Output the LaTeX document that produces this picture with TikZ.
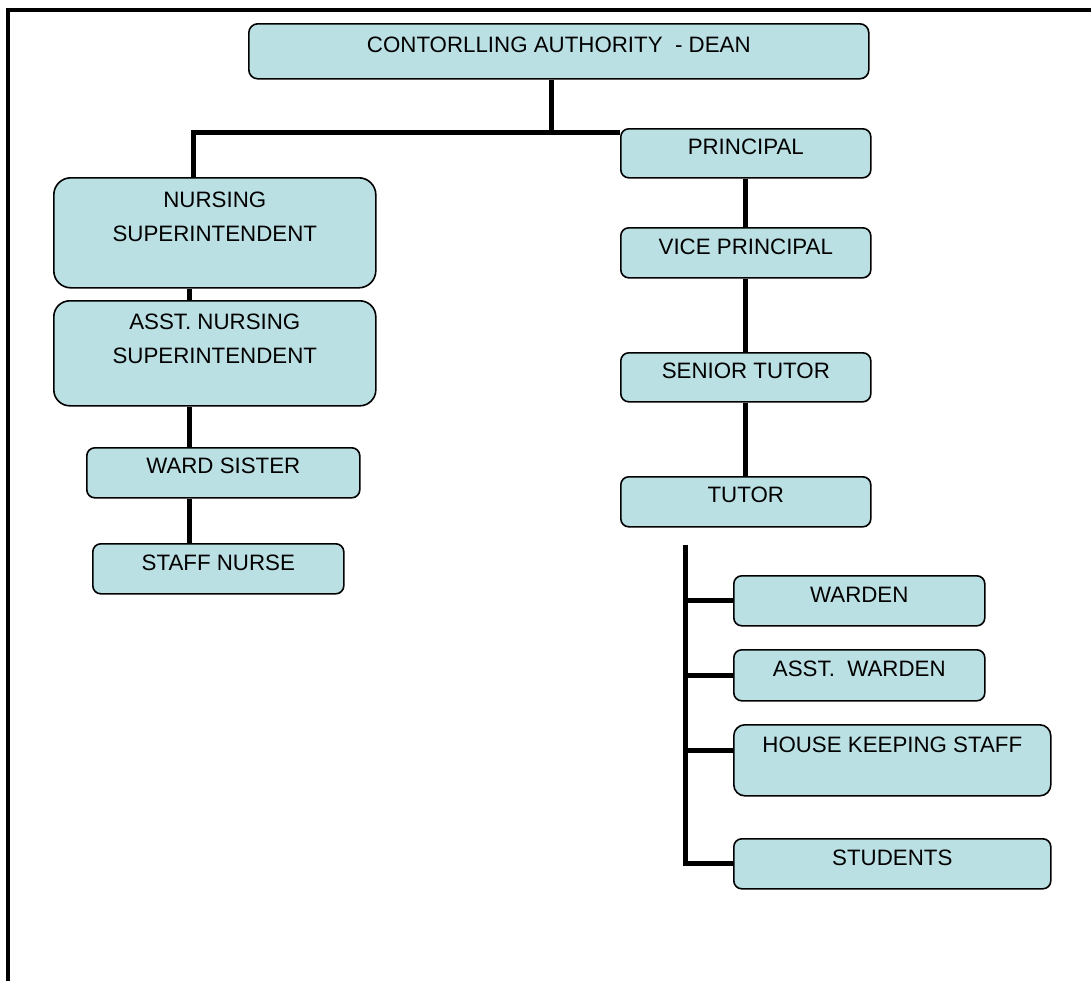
\documentclass[tikz,border=0pt]{standalone}
\usepackage{fontspec}
\usepackage{tikz}
\usetikzlibrary{calc}
\newfontfamily\orgfont{Liberation Sans}
\definecolor{boxfill}{RGB}{187,224,227}

\begin{document}
\begin{tikzpicture}[x=1pt,y=-1pt,
    post/.style={draw=black, line width=1.6pt, fill=boxfill, anchor=north west, inner sep=0pt, rounded corners=8pt},
    bar/.style={line width=5pt},
    ttl/.style={anchor=base, inner sep=0pt, align=center, font=\orgfont\fontsize{22.3}{34}\selectfont}]
                \useasboundingbox (0,0) rectangle (1091,980);

                % Frame
                \draw[line width=4pt] (8,985)--(8,9.5)--(1095,9.5);

                % Boxes
                \node[post, minimum width=620, minimum height=55, rounded corners=9pt] (dean) at (248,23) {};
                \node[post, minimum width=250, minimum height=49] (prin) at (620,128) {};
                \node[post, minimum width=250, minimum height=50] (vice) at (620,227) {};
                \node[post, minimum width=250, minimum height=49] (sen) at (620,352) {};
                \node[post, minimum width=250, minimum height=50] (tut) at (620,476) {};
                \node[post, minimum width=322, minimum height=110, rounded corners=17pt] (nsup) at (53,177) {};
                \node[post, minimum width=322, minimum height=105, rounded corners=16pt] (ansup) at (53,300) {};
                \node[post, minimum width=273, minimum height=50] (ward) at (86,447) {};
                \node[post, minimum width=251, minimum height=50] (staff) at (92,543) {};
                \node[post, minimum width=251, minimum height=50] (wdn) at (733,575) {};
                \node[post, minimum width=251, minimum height=51] (awdn) at (733,649) {};
                \node[post, minimum width=317, minimum height=71, rounded corners=11pt] (hks) at (733,724) {};
                \node[post, minimum width=317, minimum height=50] (stu) at (733,838) {};

                % Texts (two-line ones sit on their last line)
                \node[ttl] (dean-t) at ([yshift=-29pt]dean.north) {CONTORLLING AUTHORITY \ - DEAN};
                \node[ttl] (prin-t) at ([yshift=-26pt]prin.north) {PRINCIPAL};
                \node[ttl] (vice-t) at ([yshift=-27pt]vice.north) {VICE PRINCIPAL};
                \node[ttl] (sen-t) at ([yshift=-26pt]sen.north) {SENIOR TUTOR};
                \node[ttl] (tut-t) at ([yshift=-26pt]tut.north) {TUTOR};
                \node[ttl] (nsup-t) at ([yshift=-64.5pt]nsup.north) {NURSING\\SUPERINTENDENT};
                \node[ttl] (ansup-t) at ([yshift=-63pt]ansup.north) {ASST. NURSING\\SUPERINTENDENT};
                \node[ttl] (ward-t) at ([yshift=-26pt]ward.north) {WARD SISTER};
                \node[ttl] (staff-t) at ([yshift=-27pt]staff.north) {STAFF NURSE};
                \node[ttl] (wdn-t) at ([yshift=-27pt]wdn.north) {WARDEN};
                \node[ttl] (awdn-t) at ([yshift=-27pt]awdn.north) {ASST.\ \ WARDEN};
                \node[ttl] (hks-t) at ([yshift=-28pt]hks.north) {HOUSE KEEPING STAFF};
                \node[ttl] (stu-t) at ([yshift=-27pt]stu.north) {STUDENTS};

                % Dean to both sides
                \draw[bar] ([xshift=-7pt]dean.south) |- ([yshift=-4pt]prin.north west);
                \draw[bar] ([xshift=-21pt]nsup.north) |- ([yshift=-4pt]prin.north west);

                % Nursing side
                \draw[bar] ([xshift=-25pt]nsup.south) -- ([xshift=-25pt]ansup.north);
                \draw[bar] ([xshift=-25pt]ansup.south) -- ([xshift=-25pt]ansup.south |- ward.north);
                \draw[bar] ([xshift=-25pt]ansup.south |- ward.south) -- ([xshift=-25pt]ansup.south |- staff.north);

                % College side
                \draw[bar] (prin.south) -- (vice.north);
                \draw[bar] (vice.south) -- (sen.north);
                \draw[bar] (sen.south) -- (tut.north);

                % Hostel bus
                \coordinate (bus) at ([xshift=-60pt,yshift=-17pt]tut.south);
                \draw[bar] (bus) |- (stu.west);
                \draw[bar] (bus |- wdn.west) -- (wdn.west);
                \draw[bar] (bus |- awdn.west) -- (awdn.west);
                \draw[bar] ($(bus |- hks.west)+(0,-10)$) -- ($(hks.west)+(0,-10)$);

            \end{tikzpicture}
\end{document}
